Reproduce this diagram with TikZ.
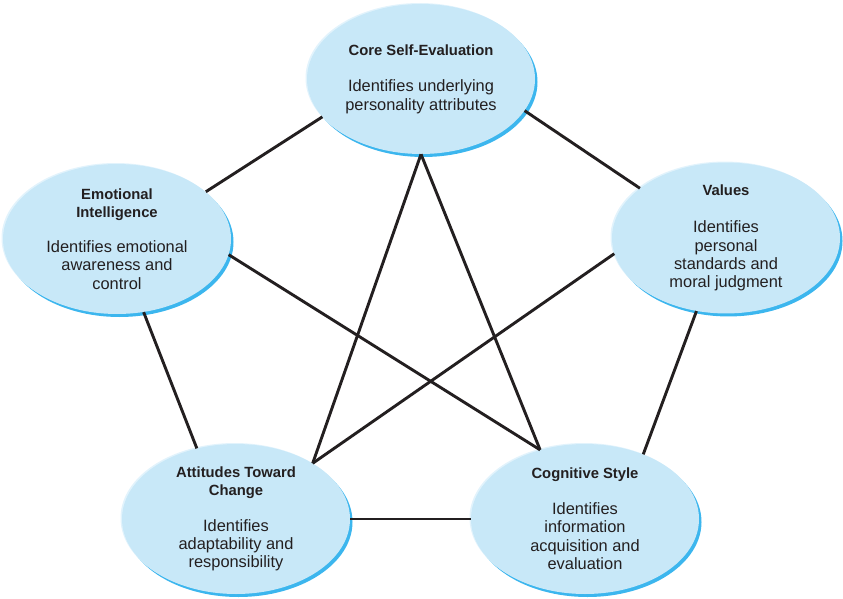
\documentclass[tikz,border=0pt]{standalone}
\usepackage{fontspec}
\setmainfont{Liberation Sans}
\usetikzlibrary{shapes.geometric}
\definecolor{ellfill}{HTML}{C8E8F8}
\definecolor{ellrim}{HTML}{3CB6EE}
\definecolor{ellhi}{HTML}{E2F3FC}
\definecolor{linec}{HTML}{231F20}
\newcommand{\elltitle}[1]{{\fontsize{14.8}{18}\selectfont\bfseries #1}}
\begin{document}
\begin{tikzpicture}[x=1pt,y=-1pt,
  ell/.style={ellipse, minimum width=228pt, minimum height=150pt, inner sep=0pt,
    fill=ellfill, align=center, text=linec,
    font=\fontsize{16.4}{18.4}\selectfont,
    preaction={fill=ellrim, transform canvas={shift={(2.5pt,-3pt)}}},
    preaction={fill=ellhi, transform canvas={shift={(-1.5pt,1pt)}}}},
  conn/.style={draw=linec, line width=2.9pt}]
\useasboundingbox (0,0) rectangle (843,599);
\node[ell] (core) at (421,79) {\elltitle{Core Self-Evaluation}\\[18pt]Identifies underlying\\personality attributes};
\node[ell] (emo) at (117,239) {\elltitle{Emotional}\\\elltitle{Intelligence}\\[16pt]Identifies emotional\\awareness and\\control};
\node[ell] (val) at (726,238) {\elltitle{Values}\\[19pt]Identifies\\personal\\standards and\\moral judgment};
\node[ell] (att) at (236,519) {\elltitle{Attitudes Toward}\\\elltitle{Change}\\[17pt]Identifies\\adaptability and\\responsibility};
\node[ell] (cog) at (585,519) {\elltitle{Cognitive Style}\\[17pt]Identifies\\information\\acquisition and\\evaluation};
\draw[conn] (core.201) -- (emo.28);
\draw[conn] (core.-17) -- (val.150);
\draw[conn] (core.-90) -- (att.36);
\draw[conn] (core.-90) -- (cog.123);
\draw[conn] (emo.-8) -- (cog.123);
\draw[conn] (val.188.6) -- (att.36);
\draw[conn] (emo.-70.7) -- (att.119.6);
\draw[conn] (val.248) -- (cog.48.5);
\draw[conn] (att.0) -- (cog.180);
\end{tikzpicture}
\end{document}
